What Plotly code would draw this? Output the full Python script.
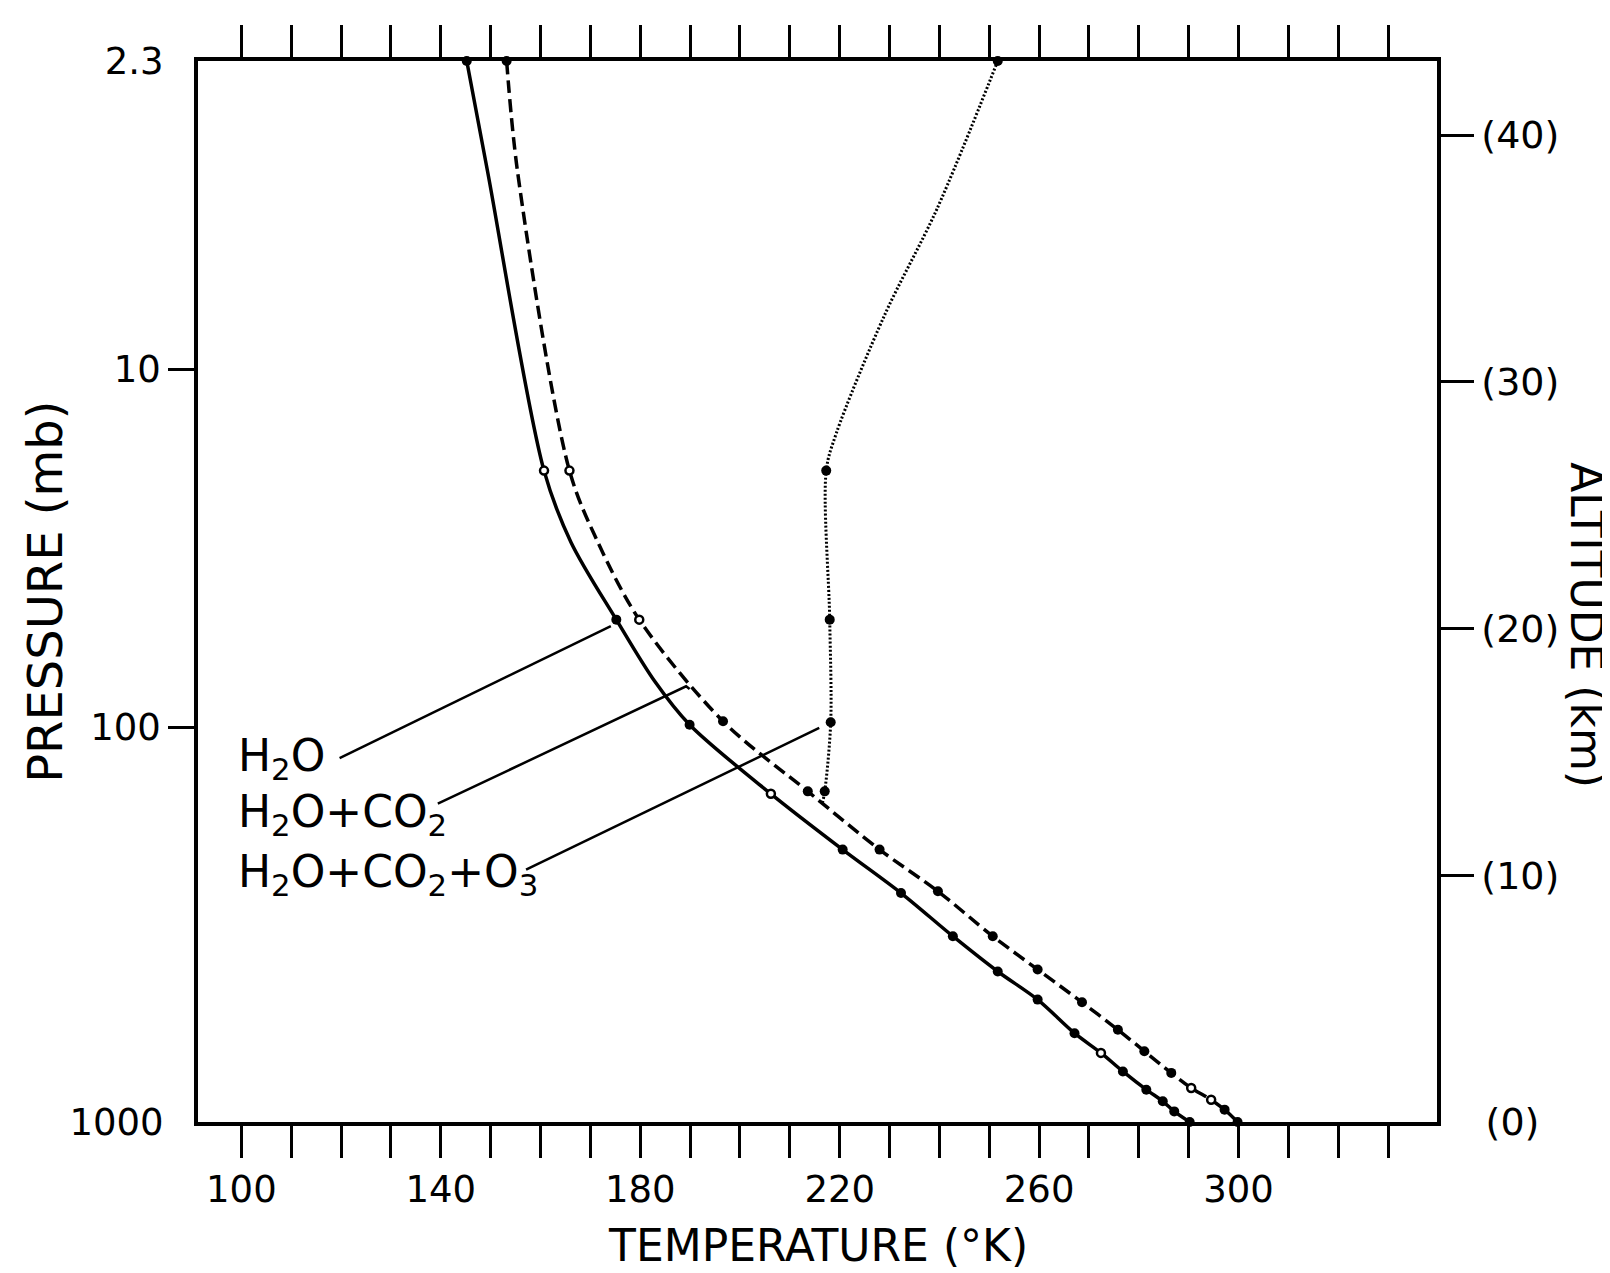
import plotly.graph_objects as go

# ---------------- data (temperature in K, altitude in km) ----------------
H2O_T = [145.2, 149.4, 160.7, 166.1, 175.2, 182.9, 189.9, 206.2, 220.6, 232.3,
         242.7, 251.7, 259.7, 267.1, 272.4, 276.8, 281.5, 284.8, 287.1, 290.2]
H2O_Z = [43.0, 38.5, 26.4, 23.5, 20.36, 17.86, 16.1, 13.3, 11.04, 9.28,
         7.53, 6.1, 4.96, 3.6, 2.8, 2.05, 1.31, 0.84, 0.43, 0.0]
H2O_PT = [1, 0, 1, 0, 1, 0, 1, 1, 1, 1, 1, 1, 1, 1, 1, 1, 1, 1, 1, 1]

CO2_T = [153.2, 155.4, 165.8, 171.5, 179.8, 196.6, 213.6, 228.0, 239.7, 250.7,
         259.7, 268.6, 275.8, 281.1, 286.5, 290.5, 294.5, 297.2, 299.8]
CO2_Z = [43.0, 38.5, 26.4, 23.5, 20.36, 16.24, 13.4, 11.04, 9.35, 7.53,
         6.18, 4.85, 3.74, 2.87, 1.99, 1.38, 0.9, 0.5, 0.0]
CO2_PT = [1, 0, 1, 0, 1, 1, 1, 1, 1, 1, 1, 1, 1, 1, 1, 1, 1, 1, 1]

O3_T = [251.7, 239.5, 229.0, 219.3, 217.3, 218.0, 218.2, 217.0, 216.5]
O3_Z = [43.0, 37.0, 32.7, 27.9, 26.4, 20.36, 16.2, 13.4, 12.9]
O3_PT = [1, 0, 0, 0, 1, 1, 1, 1, 0]

# label leader lines (T, z)
LEAD_H2O_T = [119.7, 174.1]
LEAD_H2O_Z = [14.75, 20.1]
LEAD_CO2_T = [139.4, 189.2, 189.9]
LEAD_CO2_Z = [12.9, 17.66, 17.55]
LEAD_O3_T = [157.1, 215.9]
LEAD_O3_Z = [10.23, 15.97]

LABELS = ["H<sub>2</sub>O", "H<sub>2</sub>O+CO<sub>2</sub>",
          "H<sub>2</sub>O+CO<sub>2</sub>+O<sub>3</sub>"]
LABEL_T = [99.0, 99.0, 99.0]
LABEL_Z = [14.75, 12.45, 10.05]

X_LABEL_TICKS = [100, 140, 180, 220, 260, 300]
X_MINOR_TICKS = [v for v in range(100, 331, 10) if v not in X_LABEL_TICKS]
P_TICK_Z = [30.5, 16.0]
P_TICK_TEXT = ["10", "100"]
P_END_Z = [43.0, 0.0]
P_END_TEXT = ["2.3", "1000"]
ALT_TICKS = [10, 20, 30, 40]
ALT_TEXT = ["(10)", "(20)", "(30)", "(40)"]

X_RANGE = [91.3, 339.8]
Z_RANGE = [0.0, 43.0]

# ---------------- styles ----------------
FONT = "DejaVu Sans"
BLACK = "black"
OPEN_H2O = {2, 7, 14}
OPEN_CO2 = {2, 4, 15, 16}
OPEN_O3 = set()

fig = go.Figure()

series = [
    (H2O_T, H2O_Z, H2O_PT, OPEN_H2O, "solid", 3.5),
    (CO2_T, CO2_Z, CO2_PT, OPEN_CO2, "13px,6px", 3.5),
    (O3_T, O3_Z, O3_PT, OPEN_O3, "2px,2px", 3.0),
]
for t, z, pt, openset, dash, w in series:
    fig.add_trace(go.Scatter(x=t, y=z, mode="lines",
                             line=dict(color=BLACK, width=w, dash=dash,
                                       shape="spline", smoothing=0.9),
                             hoverinfo="skip", showlegend=False))
    idx = [i for i, m in enumerate(pt) if m]
    fill_idx = [i for i in idx if i not in openset]
    open_idx = [i for i in idx if i in openset]
    fig.add_trace(go.Scatter(x=[t[i] for i in fill_idx], y=[z[i] for i in fill_idx],
                             mode="markers", cliponaxis=False,
                             marker=dict(color=BLACK, size=10, symbol="circle"),
                             hoverinfo="skip", showlegend=False))
    if open_idx:
        fig.add_trace(go.Scatter(x=[t[i] for i in open_idx], y=[z[i] for i in open_idx],
                                 mode="markers", cliponaxis=False,
                                 marker=dict(color="white", size=8, symbol="circle",
                                             line=dict(color=BLACK, width=2.5)),
                                 hoverinfo="skip", showlegend=False))

for t, z in [(LEAD_H2O_T, LEAD_H2O_Z), (LEAD_CO2_T, LEAD_CO2_Z), (LEAD_O3_T, LEAD_O3_Z)]:
    fig.add_trace(go.Scatter(x=t, y=z, mode="lines",
                             line=dict(color=BLACK, width=2.5),
                             hoverinfo="skip", showlegend=False))

# invisible traces to activate the extra y axes
for ax in ["y2", "y3", "y4"]:
    fig.add_trace(go.Scatter(x=[X_RANGE[0]], y=[Z_RANGE[0]], yaxis=ax, mode="markers",
                             marker=dict(opacity=0), hoverinfo="skip", showlegend=False))

annotations = []
for txt, t, z in zip(LABELS, LABEL_T, LABEL_Z):
    annotations.append(dict(x=t, y=z, xref="x", yref="y", text=txt, showarrow=False,
                            xanchor="left", yanchor="middle",
                            font=dict(family=FONT, size=44, color=BLACK)))

annotations += [
    dict(x=0.5, y=-0.1165, xref="paper", yref="paper", text="TEMPERATURE (°K)",
         showarrow=False, xanchor="center", yanchor="middle",
         font=dict(family=FONT, size=44, color=BLACK)),
    dict(x=-0.124, y=0.5, xref="paper", yref="paper", text="PRESSURE (mb)",
         showarrow=False, xanchor="center", yanchor="middle", textangle=-90,
         font=dict(family=FONT, size=48, color=BLACK)),
    dict(x=1.1205, y=0.468, xref="paper", yref="paper", text="ALTITUDE (km)",
         showarrow=False, xanchor="center", yanchor="middle", textangle=90,
         font=dict(family=FONT, size=44, color=BLACK)),
]

common_y = dict(range=Z_RANGE, showgrid=False, zeroline=False, fixedrange=True)

fig.update_layout(
    width=1610, height=1273,
    margin=dict(l=190, r=181, t=53, b=159),
    paper_bgcolor="white", plot_bgcolor="white",
    showlegend=False,
    font=dict(family=FONT, color=BLACK),
    xaxis=dict(range=X_RANGE, tickmode="array", tickvals=X_LABEL_TICKS,
               ticktext=[str(v) for v in X_LABEL_TICKS],
               ticks="outside", ticklen=32, tickwidth=3, tickcolor=BLACK,
               minor=dict(tickmode="array", tickvals=X_MINOR_TICKS, ticks="outside",
                          ticklen=32, tickwidth=3, tickcolor=BLACK, showgrid=False),
               showline=True, linewidth=3.5, linecolor=BLACK, mirror="ticks",
               showgrid=False, zeroline=False,
               tickfont=dict(family=FONT, size=37, color=BLACK)),
    yaxis=dict(**common_y, tickmode="array", tickvals=P_TICK_Z, ticktext=P_TICK_TEXT,
               ticks="outside", ticklen=26, tickwidth=3, tickcolor=BLACK,
               showline=True, linewidth=3.5, linecolor=BLACK, mirror=True,
               tickfont=dict(family=FONT, size=37, color=BLACK)),
    yaxis3=dict(**common_y, overlaying="y", side="left", tickmode="array",
                tickvals=P_END_Z, ticktext=P_END_TEXT,
                ticks="outside", ticklen=26, tickcolor="rgba(0,0,0,0)",
                showline=False,
                tickfont=dict(family=FONT, size=37, color=BLACK)),
    yaxis2=dict(**common_y, overlaying="y", side="right", tickmode="array",
                tickvals=ALT_TICKS, ticktext=ALT_TEXT,
                ticks="outside", ticklen=33, tickwidth=3, tickcolor=BLACK,
                showline=True, linewidth=3.5, linecolor=BLACK,
                tickfont=dict(family=FONT, size=38, color=BLACK)),
    yaxis4=dict(**common_y, overlaying="y", side="right", tickmode="array",
                tickvals=[0], ticktext=["(0)"],
                ticks="outside", ticklen=40, tickcolor="rgba(0,0,0,0)",
                showline=False,
                tickfont=dict(family=FONT, size=38, color=BLACK)),
    annotations=annotations,
)

fig.write_html("out.html")
